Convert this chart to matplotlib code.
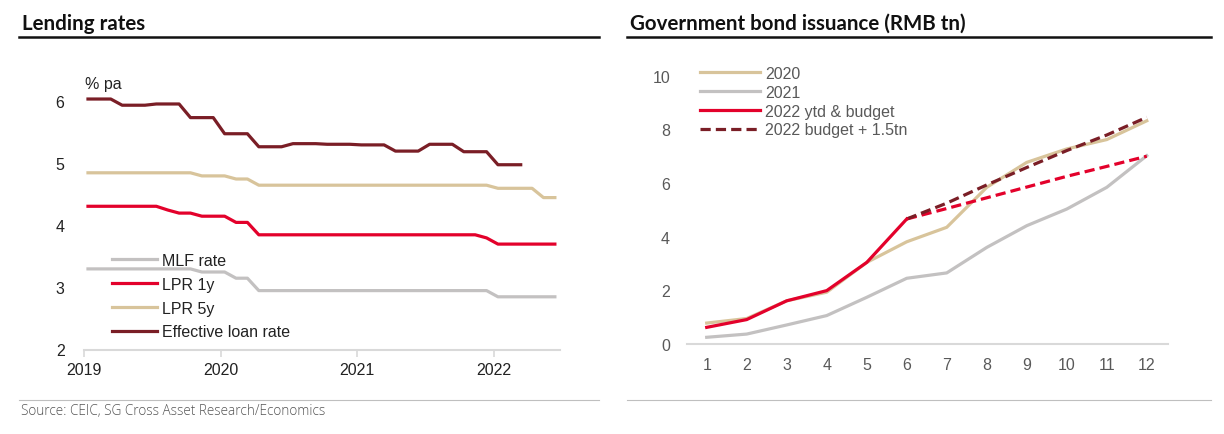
import numpy as np
import matplotlib
matplotlib.use("Agg")
import matplotlib.pyplot as plt
from matplotlib.lines import Line2D

# ---------------- data ----------------
# Left chart: monthly, Jan 2019 .. Jun 2022
mlf_rate = [3.30]*10 + [3.25]*3 + [3.15]*2 + [2.95]*21 + [2.85]*6
lpr_1y = [4.31]*7 + [4.25] + [4.20]*2 + [4.15]*3 + [4.05]*2 + [3.85]*20 + [3.80] + [3.70]*6
lpr_5y = [4.85]*10 + [4.80]*3 + [4.75]*2 + [4.65]*21 + [4.60]*4 + [4.45]*2
eff_loan = ([6.04]*3 + [5.94]*3 + [5.96]*3 + [5.74]*3 + [5.48]*3 + [5.27]*3 +
            [5.32]*3 + [5.31]*3 + [5.30]*3 + [5.20]*3 + [5.31]*3 + [5.19]*3 + [4.98]*3)
year_labels = ["2019", "2020", "2021", "2022"]
left_yticks = [2, 3, 4, 5, 6]

# Right chart: cumulative issuance, month 1..12
months = list(range(1, 13))
gb_2020 = [0.78, 0.95, 1.61, 1.93, 3.04, 3.81, 4.35, 5.84, 6.77, 7.27, 7.62, 8.32]
gb_2021 = [0.25, 0.37, 0.71, 1.06, 1.74, 2.45, 2.65, 3.60, 4.41, 5.03, 5.84, 7.02]
gb_2022_ytd = [0.62, 0.91, 1.61, 1.99, 3.04, 4.66]
budget_months = [6, 7, 8, 9, 10, 11, 12]
gb_2022_budget = [4.66, 5.05, 5.45, 5.85, 6.25, 6.62, 7.00]
gb_2022_budget_plus = [4.66, 5.25, 5.93, 6.58, 7.21, 7.79, 8.45]
right_yticks = [0, 2, 4, 6, 8, 10]

# ---------------- style ----------------
C_GRAY = "#c3c1c1"
C_RED = "#e3012b"
C_TAN = "#d8c49b"
C_DARK = "#7a1e26"
C_AXIS = "#d9d9d9"

plt.rcParams["font.family"] = ["Liberation Sans", "DejaVu Sans"]
W, H = 1224, 435
fig = plt.figure(figsize=(W/100, H/100), dpi=100)

def fx(px):
    return px / W
def fy(py):
    return 1 - py / H

# titles and rules
title_font = dict(family=["Lato", "DejaVu Sans"], weight="bold", size=14.8, color="#111111")
fig.text(fx(22), fy(30), "Lending rates", ha="left", va="baseline", **title_font)
fig.text(fx(630), fy(30), "Government bond issuance (RMB tn)", ha="left", va="baseline", **title_font)
for x0, x1 in [(19, 599), (627, 1211)]:
    fig.add_artist(Line2D([fx(x0), fx(x1)], [fy(38), fy(38)], color="#111111", lw=1.8,
                          transform=fig.transFigure))
    fig.add_artist(Line2D([fx(x0), fx(x1)], [fy(401), fy(401)], color="#bfbfbf", lw=0.8,
                          transform=fig.transFigure))
fig.text(fx(21), fy(412), "Source: CEIC, SG Cross Asset Research/Economics", ha="left", va="center",
         family=["Open Sans", "DejaVu Sans"], size=9.8, color="#555555", weight="light")

# ---------------- left chart ----------------
n = len(mlf_rate)
xpos = np.arange(n) + 0.35
axL = fig.add_axes([fx(84), fy(350.5), fx(560) - fx(84), fy(65.3) - fy(350.5)])
lw = 2.3
axL.plot(xpos, mlf_rate, color=C_GRAY, lw=lw, label="MLF rate")
axL.plot(xpos, lpr_1y, color=C_RED, lw=lw, label="LPR 1y")
axL.plot(xpos, lpr_5y, color=C_TAN, lw=lw, label="LPR 5y")
axL.plot(xpos[:len(eff_loan)], eff_loan, color=C_DARK, lw=lw, label="Effective loan rate")
axL.set_xlim(0, 41.8)
axL.set_ylim(2, 6.6)
axL.set_yticks(left_yticks)
axL.set_yticklabels([str(v) for v in left_yticks])
axL.set_xticks([0, 12, 24, 36])
axL.set_xticklabels(year_labels)
for s in ["top", "right", "left"]:
    axL.spines[s].set_visible(False)
axL.spines["bottom"].set_color(C_AXIS)
axL.spines["bottom"].set_linewidth(1.5)
axL.tick_params(axis="y", length=0, pad=14, labelsize=11.5, labelcolor="#222222")
axL.tick_params(axis="x", length=5, width=1.2, color=C_AXIS, pad=4, labelsize=11.5, labelcolor="#222222")
axL.text(0.002, 0.931, "% pa", transform=axL.transAxes, ha="left", va="center", size=11.5, color="#222222")
legL = axL.legend(loc="upper left", bbox_to_anchor=(fx(112), fy(254)), bbox_transform=fig.transFigure,
                  frameon=False, borderpad=0, borderaxespad=0, handlelength=2.8, handletextpad=0.3,
                  labelspacing=0.55, fontsize=11.5)
for t in legL.get_texts():
    t.set_color("#222222")

# ---------------- right chart ----------------
axR = fig.add_axes([fx(686.7), fy(345), fx(1168) - fx(686.7), fy(63.3) - fy(345)])
axR.plot(months, gb_2020, color=C_TAN, lw=lw, label="2020")
axR.plot(months, gb_2021, color=C_GRAY, lw=lw, label="2021")
axR.plot(budget_months, gb_2022_budget, color=C_RED, lw=lw, ls=(0, (3.2, 1.6)))
axR.plot(budget_months, gb_2022_budget_plus, color=C_DARK, lw=lw, ls=(0, (3.2, 1.6)),
         label="2022 budget + 1.5tn")
axR.plot(months[:len(gb_2022_ytd)], gb_2022_ytd, color=C_RED, lw=lw, label="2022 ytd & budget")
axR.set_xlim(0.5, 12.53)
axR.set_ylim(0, 10.5)
axR.set_yticks(right_yticks)
axR.set_xticks(months)
for s in ["top", "right", "left"]:
    axR.spines[s].set_visible(False)
axR.spines["bottom"].set_color(C_AXIS)
axR.spines["bottom"].set_linewidth(1.5)
axR.tick_params(axis="y", length=0, pad=12, labelsize=11.5, labelcolor="#595959")
axR.tick_params(axis="x", length=0, pad=9, labelsize=11.5, labelcolor="#595959")
h, l = axR.get_legend_handles_labels()
order = ["2020", "2021", "2022 ytd & budget", "2022 budget + 1.5tn"]
hs = [h[l.index(o)] for o in order]
legR = axR.legend(hs, order, loc="upper left", bbox_to_anchor=(fx(700), fy(67)), bbox_transform=fig.transFigure,
                  frameon=False, borderpad=0, borderaxespad=0, handlelength=3.75, handletextpad=0.35,
                  labelspacing=0.24, fontsize=11.5)
for t in legR.get_texts():
    t.set_color("#595959")

fig.savefig("out.png", dpi=100)
